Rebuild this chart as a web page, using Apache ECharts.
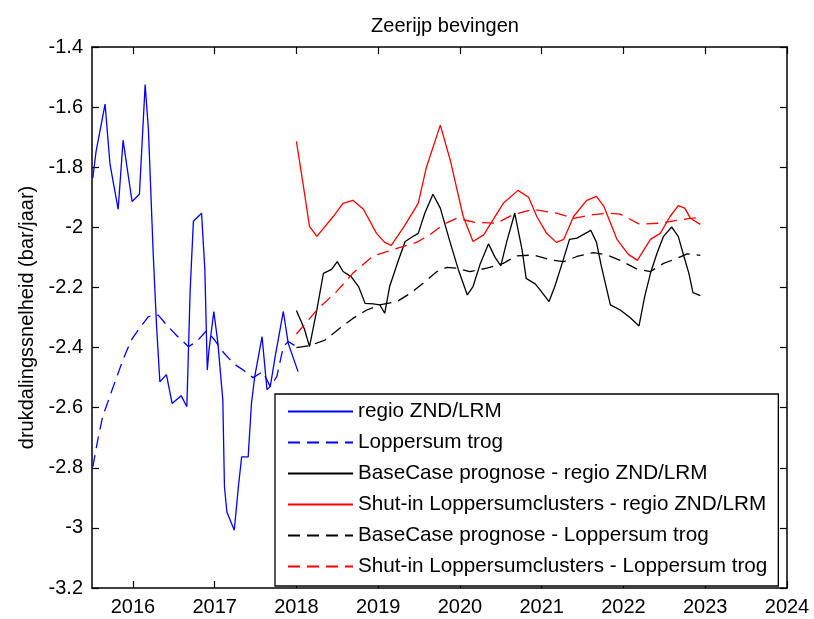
<!DOCTYPE html>
<html>
<head>
<meta charset="utf-8">
<script src="https://cdn.jsdelivr.net/npm/echarts@6/dist/echarts.min.js"></script>
<style>
  html, body { margin: 0; padding: 0; background: #fff; }
  #chart { width: 814px; height: 619px; }
</style>
</head>
<body>
<div id="chart"></div>
<script>
// observed (decimal years)
const obsZndT = [2015.51, 2015.55, 2015.66, 2015.72, 2015.82, 2015.88, 2015.99, 2016.08, 2016.15, 2016.19,
  2016.25, 2016.29, 2016.33, 2016.41, 2016.48, 2016.59, 2016.66, 2016.70, 2016.74, 2016.84,
  2016.88, 2016.91, 2016.93, 2016.99, 2017.04, 2017.10, 2017.12, 2017.15, 2017.24, 2017.29,
  2017.33, 2017.41, 2017.45, 2017.49, 2017.58, 2017.64, 2017.68, 2017.74, 2017.84, 2017.90, 2018.02];
const obsZnd = [-1.836, -1.747, -1.59, -1.79, -1.94, -1.71, -1.914, -1.89, -1.525, -1.675,
  -2.097, -2.33, -2.514, -2.49, -2.586, -2.56, -2.597, -2.214, -1.98, -1.953,
  -2.14, -2.475, -2.41, -2.28, -2.386, -2.575, -2.864, -2.947, -3.008, -2.864,
  -2.764, -2.764, -2.586, -2.497, -2.364, -2.54, -2.53, -2.43, -2.28, -2.386, -2.48];

const obsLopT = [2015.51, 2015.57, 2015.63, 2015.76, 2015.88, 2015.98, 2016.08, 2016.19, 2016.31, 2016.43,
  2016.55, 2016.68, 2016.78, 2016.90, 2017.00, 2017.10, 2017.23, 2017.35, 2017.47, 2017.59,
  2017.68, 2017.76, 2017.84, 2017.90, 2018.02];
const obsLop = [-2.797, -2.708, -2.63, -2.53, -2.44, -2.375, -2.336, -2.297, -2.292, -2.33,
  -2.364, -2.397, -2.38, -2.344, -2.375, -2.414, -2.453, -2.475, -2.50, -2.48,
  -2.53, -2.497, -2.397, -2.38, -2.40];

// prognoses
const baseZndT = [2018.00, 2018.10, 2018.16, 2018.25, 2018.33, 2018.43, 2018.50, 2018.57, 2018.67, 2018.76,
  2018.84, 2018.94, 2019.02, 2019.08, 2019.14, 2019.25, 2019.33, 2019.41, 2019.49, 2019.57,
  2019.67, 2019.76, 2019.88, 2019.98, 2020.09, 2020.16, 2020.25, 2020.35, 2020.43, 2020.50,
  2020.57, 2020.67, 2020.76, 2020.81, 2020.92, 2020.98, 2021.09, 2021.16, 2021.25, 2021.34,
  2021.43, 2021.60, 2021.67, 2021.73, 2021.84, 2021.96, 2022.08, 2022.19, 2022.26, 2022.33,
  2022.41, 2022.49, 2022.59, 2022.67, 2022.74, 2022.80, 2022.85, 2022.94];
const baseZnd = [-2.277, -2.34, -2.397, -2.275, -2.153, -2.14, -2.114, -2.147, -2.164, -2.197,
  -2.253, -2.255, -2.258, -2.286, -2.197, -2.108, -2.047, -2.033, -2.02, -1.953,
  -1.89, -1.936, -2.05, -2.14, -2.225, -2.197, -2.12, -2.055, -2.10, -2.128,
  -2.05, -1.953, -2.075, -2.17, -2.188, -2.208, -2.247, -2.197, -2.12, -2.04,
  -2.036, -2.01, -2.05, -2.13, -2.258, -2.275, -2.30, -2.328, -2.23, -2.153,
  -2.086, -2.03, -1.999, -2.03, -2.097, -2.153, -2.217, -2.227];

const shutZndT = [2018.00, 2018.08, 2018.16, 2018.25, 2018.45, 2018.57, 2018.69, 2018.82, 2018.98, 2019.08,
  2019.16, 2019.31, 2019.49, 2019.59, 2019.76, 2019.88, 2020.04, 2020.16, 2020.29, 2020.53,
  2020.71, 2020.84, 2020.94, 2021.06, 2021.18, 2021.27, 2021.39, 2021.55, 2021.67, 2021.76,
  2021.92, 2022.06, 2022.17, 2022.33, 2022.45, 2022.57, 2022.67, 2022.75, 2022.82, 2022.94];
const shutZnd = [-1.714, -1.853, -1.997, -2.03, -1.964, -1.92, -1.91, -1.94, -2.02, -2.05,
  -2.06, -2.0, -1.92, -1.80, -1.66, -1.775, -1.964, -2.047, -2.025, -1.92,
  -1.877, -1.90, -1.964, -2.02, -2.05, -2.04, -1.964, -1.91, -1.897, -1.93,
  -2.04, -2.09, -2.11, -2.04, -2.02, -1.964, -1.928, -1.936, -1.97, -1.99];

const baseLopT = [2018.00, 2018.16, 2018.35, 2018.53, 2018.69, 2018.86, 2019.02, 2019.23, 2019.39, 2019.55,
  2019.72, 2019.84, 2019.96, 2020.12, 2020.33, 2020.53, 2020.69, 2020.90, 2021.10, 2021.27,
  2021.43, 2021.63, 2021.80, 2021.96, 2022.16, 2022.33, 2022.49, 2022.63, 2022.78, 2022.94];
const baseLop = [-2.40, -2.394, -2.375, -2.336, -2.303, -2.275, -2.258, -2.247, -2.22, -2.186,
  -2.147, -2.133, -2.136, -2.147, -2.136, -2.12, -2.095, -2.092, -2.108, -2.114,
  -2.097, -2.084, -2.092, -2.11, -2.138, -2.147, -2.12, -2.106, -2.088, -2.093];

const shutLopT = [2018.00, 2018.25, 2018.49, 2018.69, 2018.94, 2019.23, 2019.47, 2019.63, 2019.80, 2019.96,
  2020.20, 2020.45, 2020.65, 2020.90, 2021.18, 2021.39, 2021.63, 2021.80, 2021.96, 2022.20,
  2022.45, 2022.65, 2022.82, 2022.94];
const shutLop = [-2.355, -2.275, -2.214, -2.153, -2.095, -2.07, -2.05, -2.025, -1.99, -1.97,
  -1.984, -1.986, -1.958, -1.94, -1.953, -1.97, -1.958, -1.953, -1.956, -1.99,
  -1.986, -1.977, -1.97, -1.967];

const xTicks = [2016, 2017, 2018, 2019, 2020, 2021, 2022, 2023, 2024];

const pairs = (t, v) => t.map((x, i) => [x, v[i]]);
const font = "'Liberation Sans', Arial, sans-serif";

function line(name, t, v, color, dashed) {
  return {
    name: name,
    type: 'line',
    data: pairs(t, v),
    symbol: 'none',
    showSymbol: false,
    animation: false,
    lineStyle: { color: color, width: 1.3, type: dashed ? [12, 7] : 'solid' },
    itemStyle: { color: color }
  };
}

const chart = echarts.init(document.getElementById('chart'));

const xBase = {
  type: 'value', min: 2015.5, max: 2024,
  axisLine: { lineStyle: { color: '#000', width: 1.5 } },
  axisTick: { inside: true, length: 7, customValues: xTicks, lineStyle: { color: '#000', width: 1.2 } },
  splitLine: { show: false }
};
const yBase = {
  type: 'value', min: -3.2, max: -1.4, interval: 0.2,
  axisLine: { show: true, lineStyle: { color: '#000', width: 1.5 } },
  axisTick: { show: true, inside: true, length: 7, lineStyle: { color: '#000', width: 1.2 } },
  splitLine: { show: false }
};

chart.setOption({
  backgroundColor: '#fff',
  title: {
    text: 'Zeerijp bevingen',
    left: 440, top: 11, textAlign: 'center',
    textStyle: { fontFamily: font, fontSize: 20, fontWeight: 'normal', color: '#000' }
  },
  grid: { left: 92, right: 27, top: 47, bottom: 31 },
  legend: {
    orient: 'vertical',
    left: 275, top: 394,
    padding: [7, 11, 9, 12],
    itemWidth: 65, itemHeight: 20, itemGap: 10,
    itemStyle: { opacity: 0 },
    borderColor: '#000', borderWidth: 1.3, backgroundColor: '#fff',
    textStyle: { fontFamily: font, fontSize: 20.7, color: '#000', lineHeight: 20 },
    data: ['regio ZND/LRM', 'Loppersum trog', 'BaseCase prognose - regio ZND/LRM',
      'Shut-in Loppersumclusters - regio ZND/LRM', 'BaseCase prognose - Loppersum trog',
      'Shut-in Loppersumclusters - Loppersum trog']
  },
  xAxis: [
    Object.assign({}, xBase, {
      position: 'bottom',
      axisLabel: {
        customValues: xTicks, margin: 9, color: '#000', fontFamily: font, fontSize: 20,
        formatter: v => String(v)
      }
    }),
    Object.assign({}, xBase, { position: 'top', axisLabel: { show: false } })
  ],
  yAxis: [
    Object.assign({}, yBase, {
      position: 'left',
      name: 'drukdalingssnelheid (bar/jaar)',
      nameLocation: 'middle', nameGap: 55,
      nameTextStyle: { fontFamily: font, fontSize: 20, color: '#000' },
      axisLabel: { margin: 9, color: '#000', fontFamily: font, fontSize: 20 }
    }),
    Object.assign({}, yBase, { position: 'right', axisLabel: { show: false } })
  ],
  series: [
    line('regio ZND/LRM', obsZndT, obsZnd, '#0000ff', false),
    line('Loppersum trog', obsLopT, obsLop, '#0000ff', true),
    line('BaseCase prognose - regio ZND/LRM', baseZndT, baseZnd, '#000000', false),
    line('Shut-in Loppersumclusters - regio ZND/LRM', shutZndT, shutZnd, '#ff0000', false),
    line('BaseCase prognose - Loppersum trog', baseLopT, baseLop, '#000000', true),
    line('Shut-in Loppersumclusters - Loppersum trog', shutLopT, shutLop, '#ff0000', true)
  ]
});
</script>
</body>
</html>
